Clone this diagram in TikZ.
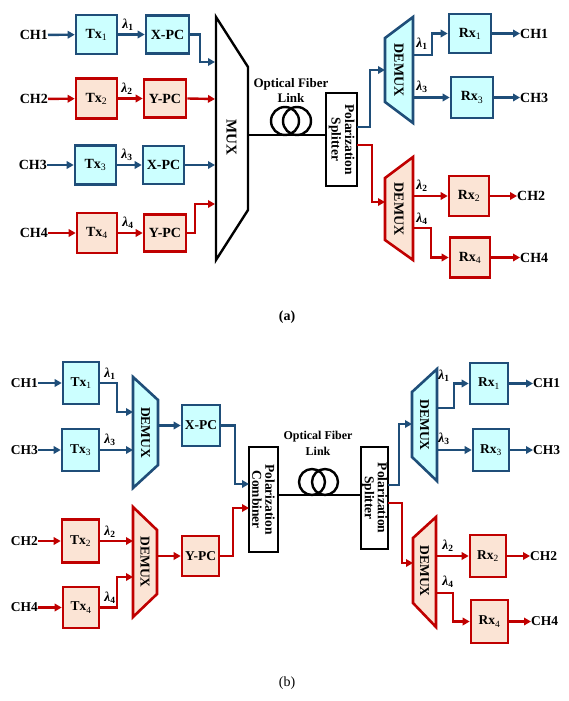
\documentclass[tikz,border=0pt]{standalone}
\usepackage{fontspec}
\setmainfont{Liberation Serif}
\usetikzlibrary{arrows.meta}
\definecolor{bl}{HTML}{1F4E79}
\definecolor{blf}{HTML}{CCFFFF}
\definecolor{rd}{HTML}{C00000}
\definecolor{rdf}{HTML}{FBE4D5}
\newcommand\lamb[1]{{\bfseries\itshape λ}\textsubscript{\bfseries #1}}
\newcommand\subx[1]{\textsubscript{\mdseries #1}}
\begin{document}
\begin{tikzpicture}[x=1pt,y=-1pt,
  fa/.style={font=\bfseries\fontsize{14}{15}\selectfont},
  fb/.style={font=\bfseries\fontsize{13.5}{14}\selectfont},
  bbox/.style={draw=bl,fill=blf,line width=2.6pt,inner sep=0pt},
  rbox/.style={draw=rd,fill=rdf,line width=2.6pt,inner sep=0pt},
  sz/.style 2 args={minimum width=#1pt,minimum height=#2pt},
  cb/.style={draw=bl,line width=2.4pt,-{Triangle[length=7pt,width=7.5pt]}},
  cr/.style={draw=rd,line width=2.4pt,-{Triangle[length=7pt,width=7.5pt]}},
  tzb/.style={draw=bl,fill=blf,line width=2.6pt,line join=miter},
  tzr/.style={draw=rd,fill=rdf,line width=2.6pt,line join=miter},
  kb/.style={draw=black,line width=2.4pt},
  lab/.style={font=\fontsize{13.5}{14}\selectfont,inner sep=0pt},
  rot/.style={rotate=-90,align=center,inner sep=0pt}]
\useasboundingbox (0,0) rectangle (568,701);
\fill[white] (0,0) rectangle (568,701);

%%%%%%%%%%%%%%%% (a)
\begin{scope}[fa]
\node[anchor=east,inner sep=0pt] (ach1) at (48,35) {CH1};
\node[anchor=east,inner sep=0pt] (ach2) at (48,99) {CH2};
\node[anchor=east,inner sep=0pt] (ach3) at (47,165) {CH3};
\node[anchor=east,inner sep=0pt] (ach4) at (48,233) {CH4};
\node[bbox,sz={41}{39}] (atx1) at (96.5,34.5) {Tx\subx{1}};
\node[rbox,sz={41}{40}] (atx2) at (96.5,98.5) {Tx\subx{2}};
\node[bbox,sz={41}{39}] (atx3) at (95.5,165) {Tx\subx{3}};
\node[rbox,sz={40}{40}] (atx4) at (97,233) {Tx\subx{4}};
\node[bbox,sz={43}{38}] (apc1) at (167.5,34.5) {X-PC};
\node[rbox,sz={42}{38}] (apc2) at (165,98.5) {Y-PC};
\node[bbox,sz={41}{38}] (apc3) at (163.5,165) {X-PC};
\node[rbox,sz={42}{37}] (apc4) at (165,233) {Y-PC};
\end{scope}
\node[lab] at (128,25) {\lamb{1}};
\node[lab] at (127,89) {\lamb{2}};
\node[lab] at (127,155) {\lamb{3}};
\node[lab] at (128,223) {\lamb{4}};
\draw[cb] (ach1) -- (atx1);
\draw[cr] (ach2) -- (atx2);
\draw[cb] (ach3) -- (atx3);
\draw[cr] (ach4) -- (atx4);
\draw[cb] (atx1) -- (apc1);
\draw[cr] (atx2) -- (apc2);
\draw[cb] (atx3) -- (apc3);
\draw[cr] (atx4) -- (apc4);
% MUX
\draw[kb,fill=white,line join=miter] (216,17) -- (248,67) -- (248,210) -- (216,260) -- cycle;
\node[rot,font=\bfseries\fontsize{15}{16}\selectfont] (mux) at (231.5,137) {MUX};
\coordinate (m1) at (215,62);
\coordinate (m2) at (215,99);
\coordinate (m3) at (215,165);
\coordinate (m4) at (215,204);
\draw[cb] (apc1.east) -| (200,62) -- (m1);
\draw[cr] (apc2.east) -- (m2);
\draw[cb] (apc3.east) -- (m3);
\draw[cr] (apc4.east) -| (195,204) -- (m4);
% fiber
\node[draw,line width=2.6pt,sz={31}{93},inner sep=0pt] (aspl) at (341.5,139.5) {};
\node[rot,font=\bfseries\fontsize{13.5}{13.5}\selectfont] at (aspl) {Polarization\\Splitter};
\coordinate (mo) at (248,135);
\draw[kb] (mo) -- (aspl.west |- mo);
\draw[kb] (285,121) circle (14);
\draw[kb] (297,121) circle (14);
\node[align=center,font=\bfseries\fontsize{13}{15}\selectfont] at (291,90) {Optical Fiber\\Link};
% demux a
\draw[tzb] (385,38) -- (413,17) -- (413,123) -- (385,102) -- cycle;
\draw[tzr] (385,178) -- (413,157) -- (413,260) -- (385,240) -- cycle;
\node[rot,font=\bfseries\fontsize{14}{15}\selectfont] (ad1) at (399,70) {DEMUX};
\node[rot,font=\bfseries\fontsize{14}{15}\selectfont] (ad2) at (399,209) {DEMUX};
\coordinate (as1) at (357,127);
\coordinate (as2) at (357,145);
\coordinate (ad1in) at (385,70);
\coordinate (ad2in) at (385,202);
\draw[cb] (as1) -| (370,70) -- (ad1in);
\draw[cr] (as2) -| (372,202) -- (ad2in);
\begin{scope}[fa]
\node[bbox,sz={42}{39}] (arx1) at (470,33.5) {Rx\subx{1}};
\node[bbox,sz={42}{41}] (arx3) at (472,97.5) {Rx\subx{3}};
\node[rbox,sz={40}{40}] (arx2) at (469,196) {Rx\subx{2}};
\node[rbox,sz={40}{40}] (arx4) at (470,257.5) {Rx\subx{4}};
\node[anchor=west,inner sep=0pt] (ao1) at (520,33.5) {CH1};
\node[anchor=west,inner sep=0pt] (ao3) at (520,97.5) {CH3};
\node[anchor=west,inner sep=0pt] (ao2) at (517,196) {CH2};
\node[anchor=west,inner sep=0pt] (ao4) at (520,257.5) {CH4};
\end{scope}
\coordinate (ad1o1) at (413,55);
\coordinate (ad1o3) at (413,97.5);
\coordinate (ad2o2) at (413,196);
\coordinate (ad2o4) at (413,228);
\draw[cb] (ad1o1) -| (432,33.5) -- (arx1.west);
\draw[cb] (ad1o3) -- (arx3.west);
\draw[cr] (ad2o2) -- (arx2.west);
\draw[cr] (ad2o4) -| (431,257.5) -- (arx4.west);
\draw[cb] (arx1) -- (ao1);
\draw[cb] (arx3) -- (ao3);
\draw[cr] (arx2) -- (ao2);
\draw[cr] (arx4) -- (ao4);
\node[lab] at (422,44) {\lamb{1}};
\node[lab] at (422,87) {\lamb{3}};
\node[lab] at (422,186) {\lamb{2}};
\node[lab] at (422,219) {\lamb{4}};
\node[font=\bfseries\fontsize{14}{15}\selectfont] at (287,317) {(a)};

%%%%%%%%%%%%%%%% (b)
\begin{scope}[fb]
\node[anchor=east,inner sep=0pt] (bch1) at (38,383) {CH1};
\node[anchor=east,inner sep=0pt] (bch3) at (38,450) {CH3};
\node[anchor=east,inner sep=0pt] (bch2) at (38,541) {CH2};
\node[anchor=east,inner sep=0pt] (bch4) at (38,607.5) {CH4};
\node[bbox,sz={36}{42}] (btx1) at (81,383) {Tx\subx{1}};
\node[bbox,sz={37}{42}] (btx3) at (80.5,450) {Tx\subx{3}};
\node[rbox,sz={37}{43}] (btx2) at (80.5,541) {Tx\subx{2}};
\node[rbox,sz={36}{41}] (btx4) at (81,607.5) {Tx\subx{4}};
\node[bbox,sz={38}{41}] (bxpc) at (201,425.5) {X-PC};
\node[rbox,sz={37}{40}] (bypc) at (200.5,556) {Y-PC};
\end{scope}
\draw[cb] (bch1) -- (btx1);
\draw[cb] (bch3) -- (btx3);
\draw[cr] (bch2) -- (btx2);
\draw[cr] (bch4) -- (btx4);
\node[lab] at (110,374) {\lamb{1}};
\node[lab] at (110,440) {\lamb{3}};
\node[lab] at (110,532) {\lamb{2}};
\node[lab] at (110,598) {\lamb{4}};
\draw[tzb] (133,377) -- (158,400) -- (158,465) -- (133,488) -- cycle;
\draw[tzr] (133,507) -- (157,530) -- (157,594) -- (133,617) -- cycle;
\node[rot,font=\bfseries\fontsize{13.5}{14}\selectfont] (bd1) at (145.5,432.5) {DEMUX};
\node[rot,font=\bfseries\fontsize{13.5}{14}\selectfont] (bd2) at (145,562) {DEMUX};
\coordinate (bd1a) at (133,412);
\coordinate (bd1b) at (133,450);
\coordinate (bd2a) at (133,541);
\coordinate (bd2b) at (133,577);
\coordinate (bd1o) at (158,425.5);
\coordinate (bd2o) at (157,556);
\draw[cb] (btx1.east) -| (117,412) -- (bd1a);
\draw[cb] (btx3.east) -- (bd1b);
\draw[cr] (btx2.east) -- (bd2a);
\draw[cr] (btx4.east) -| (117,577) -- (bd2b);
\draw[cb] (bd1o) -- (bxpc.west);
\draw[cr] (bd2o) -- (bypc.west);
% combiner, fiber, splitter
\node[draw,line width=2.6pt,sz={29}{105},inner sep=0pt] (bcomb) at (263.5,499.5) {};
\node[rot,font=\bfseries\fontsize{13.5}{13}\selectfont] at (bcomb) {Polarization\\Combiner};
\node[draw,line width=2.6pt,sz={27}{102},inner sep=0pt] (bspl) at (374.5,498) {};
\node[rot,font=\bfseries\fontsize{13.5}{13}\selectfont] at (bspl) {Polarization\\Splitter};
\coordinate (bc1) at (249,484);
\coordinate (bc2) at (249,508);
\draw[cb] (bxpc.east) -| (235,484) -- (bc1);
\draw[cr] (bypc.east) -| (233,508) -- (bc2);
\coordinate (bfo) at (278,495);
\draw[kb] (bfo) -- (bspl.west |- bfo);
\draw[kb] (312,482) circle (13);
\draw[kb] (325,482) circle (13);
\node[align=center,font=\bfseries\fontsize{12}{16}\selectfont] at (318,443) {Optical Fiber\\Link};
% demux b right
\draw[tzb] (412,392) -- (437,369) -- (437,481) -- (412,457) -- cycle;
\draw[tzr] (413,538) -- (436,517) -- (436,627) -- (413,603) -- cycle;
\node[rot,font=\bfseries\fontsize{13.5}{14}\selectfont] (bd3) at (424.5,425) {DEMUX};
\node[rot,font=\bfseries\fontsize{13.5}{14}\selectfont] (bd4) at (424.5,571) {DEMUX};
\coordinate (bs1) at (388,485);
\coordinate (bs2) at (388,503);
\coordinate (bd3in) at (412,424);
\coordinate (bd4in) at (413,563);
\draw[cb] (bs1) -| (399,424) -- (bd3in);
\draw[cr] (bs2) -| (402,563) -- (bd4in);
\begin{scope}[fb]
\node[bbox,sz={38}{41}] (brx1) at (489,383.5) {Rx\subx{1}};
\node[bbox,sz={36}{42}] (brx3) at (491,450) {Rx\subx{3}};
\node[rbox,sz={36}{42}] (brx2) at (488,556) {Rx\subx{2}};
\node[rbox,sz={37}{43}] (brx4) at (489.5,621.5) {Rx\subx{4}};
\node[anchor=west,inner sep=0pt] (bo1) at (533,383.5) {CH1};
\node[anchor=west,inner sep=0pt] (bo3) at (533,450) {CH3};
\node[anchor=west,inner sep=0pt] (bo2) at (530,556) {CH2};
\node[anchor=west,inner sep=0pt] (bo4) at (531,621.5) {CH4};
\end{scope}
\coordinate (bd3o1) at (437,408);
\coordinate (bd3o3) at (437,450);
\coordinate (bd4o2) at (436,556);
\coordinate (bd4o4) at (436,593);
\draw[cb] (bd3o1) -| (454,383.5) -- (brx1.west);
\draw[cb] (bd3o3) -- (brx3.west);
\draw[cr] (bd4o2) -- (brx2.west);
\draw[cr] (bd4o4) -| (453,621.5) -- (brx4.west);
\draw[cb] (brx1) -- (bo1);
\draw[cb] (brx3) -- (bo3);
\draw[cr] (brx2) -- (bo2);
\draw[cr] (brx4) -- (bo4);
\node[lab] at (444,376) {\lamb{1}};
\node[lab] at (444,439) {\lamb{3}};
\node[lab] at (448,546) {\lamb{2}};
\node[lab] at (448,582) {\lamb{4}};
\node[font=\fontsize{14}{15}\selectfont] at (287,683) {(b)};
\end{tikzpicture}
\end{document}
